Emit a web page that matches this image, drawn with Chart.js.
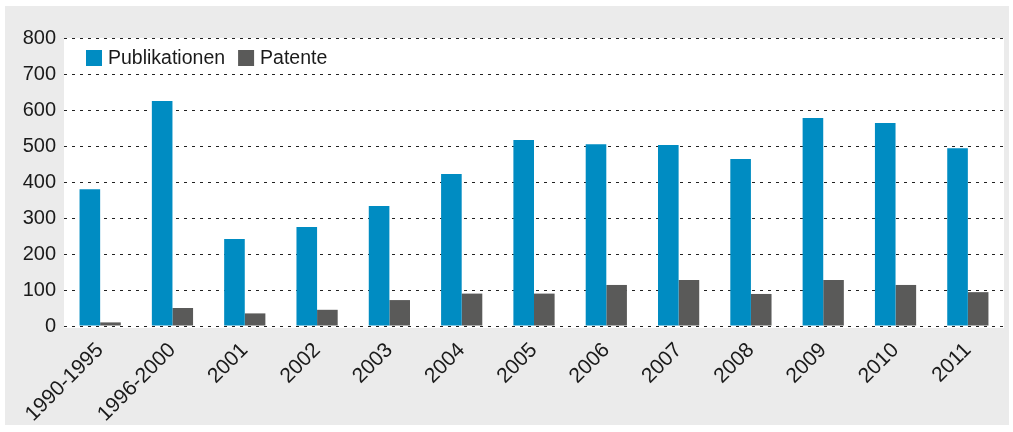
<!DOCTYPE html>
<html>
<head>
<meta charset="utf-8">
<script src="https://cdn.jsdelivr.net/npm/chart.js@4/dist/chart.umd.min.js"></script>
<style>
  body { margin: 0; background: #fff; }
  #box { position: absolute; left: 5px; top: 6px; width: 1004px; height: 419px; background: #ebebeb; }
</style>
</head>
<body>
<div id="box"><canvas id="chart" width="1004" height="419"></canvas></div>
<script>
const categories = ['1990-1995', '1996-2000', '2001', '2002', '2003', '2004', '2005', '2006', '2007', '2008', '2009', '2010', '2011'];
const publikationen = [380, 625, 242, 275, 333, 422, 517, 505, 503, 464, 578, 564, 494];
const patente = [10, 50, 35, 45, 72, 90, 90, 114, 128, 89, 128, 114, 94];
const yTicks = [0, 100, 200, 300, 400, 500, 600, 700, 800];

const blue = '#008cc2';
const grey = '#5a5a59';
const fontFamily = '"Liberation Sans", Arial, sans-serif';

// white plot area behind the bars
const plotBg = {
    id: 'plotBg',
    beforeDraw(chart) {
        const a = chart.chartArea;
        const ctx = chart.ctx;
        ctx.save();
        ctx.fillStyle = '#ffffff';
        ctx.fillRect(a.left, a.top, a.right - a.left, a.bottom - a.top + 2);
        ctx.restore();
    }
};

// legend drawn inside the plot, top left
const innerLegend = {
    id: 'innerLegend',
    afterDatasetsDraw(chart) {
        const a = chart.chartArea;
        const ctx = chart.ctx;
        let x = a.left + 22;
        const y = a.top + 12;
        ctx.save();
        ctx.font = '19.5px ' + fontFamily;
        ctx.textBaseline = 'middle';
        chart.data.datasets.forEach(function (ds) {
            ctx.fillStyle = ds.backgroundColor;
            ctx.fillRect(x, y, 16, 16);
            ctx.fillStyle = '#1a1a1a';
            ctx.fillText(ds.label, x + 22, y + 9);
            x += 22 + ctx.measureText(ds.label).width + 13;
        });
        ctx.restore();
    }
};

new Chart(document.getElementById('chart'), {
    type: 'bar',
    data: {
        labels: categories,
        datasets: [
            { label: 'Publikationen', data: publikationen, backgroundColor: blue },
            { label: 'Patente', data: patente, backgroundColor: grey }
        ]
    },
    options: {
        responsive: false,
        animation: false,
        layout: { padding: { top: 32, right: 5, left: 0, bottom: 0 } },
        datasets: { bar: { barPercentage: 1, categoryPercentage: 0.57 } },
        scales: {
            x: {
                grid: { display: false },
                border: { display: false },
                ticks: {
                    color: '#1a1a1a',
                    font: { family: fontFamily, size: 21 },
                    maxRotation: 45,
                    minRotation: 45,
                    padding: 4
                },
                afterFit(scale) { scale.height = 99; }
            },
            y: {
                min: 0,
                max: 800,
                afterBuildTicks(scale) { scale.ticks = yTicks.map(function (v) { return { value: v }; }); },
                grid: { color: '#222', lineWidth: 1, drawTicks: false },
                border: { display: false, dash: [3, 5] },
                ticks: {
                    color: '#1a1a1a',
                    font: { family: fontFamily, size: 20 },
                    padding: 8
                },
                afterFit(scale) { scale.width = 59; }
            }
        },
        plugins: {
            legend: { display: false },
            tooltip: { enabled: false }
        }
    },
    plugins: [plotBg, innerLegend]
});
</script>
</body>
</html>
